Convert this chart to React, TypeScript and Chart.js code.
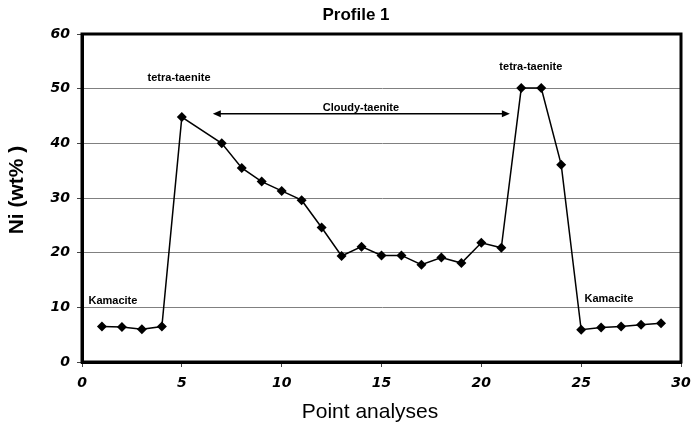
import React, { useEffect, useRef } from 'react';
import { Chart, registerables } from 'chart.js';

Chart.register(...registerables);

// ---- data ----
const pointNumbers = [1, 2, 3, 4, 5, 7, 8, 9, 10, 11, 12, 13, 14, 15, 16, 17, 18, 19, 20, 21, 22, 23, 24, 25, 26, 27, 28, 29];
const niValues = [6.5, 6.4, 6.0, 6.5, 44.8, 40.0, 35.5, 33.0, 31.3, 29.6, 24.6, 19.4, 21.1, 19.5, 19.5, 17.8, 19.1, 18.1, 21.8, 20.9, 50.1, 50.1, 36.1, 5.9, 6.3, 6.5, 6.8, 7.1];
const xTickValues = [0, 5, 10, 15, 20, 25, 30];
const yTickValues = [0, 10, 20, 30, 40, 50, 60];

const chartTitle = 'Profile 1';
const xAxisTitle = 'Point analyses';
const yAxisTitle = 'Ni (wt% )';

// annotation labels (placed in data coordinates)
const noteLabels = ['tetra-taenite', 'tetra-taenite', 'Cloudy-taenite', 'Kamacite', 'Kamacite'];
const noteX = [4.86, 22.48, 13.97, 1.55, 26.39];
const noteY = [52.0, 53.9, 46.4, 11.2, 11.6];
const arrowXStart = 6.55;
const arrowXEnd = 21.43;
const arrowYLevel = 45.4;

const tickFont = { family: "'DejaVu Sans', sans-serif", size: 14, style: 'italic' as const, weight: 'bold' as const };

function arrowHead(ctx: CanvasRenderingContext2D, x: number, y: number, dir: number) {
  const len = 8;
  const half = 3.5;
  ctx.beginPath();
  ctx.moveTo(x, y);
  ctx.lineTo(x - dir * len, y - half);
  ctx.lineTo(x - dir * len, y + half);
  ctx.closePath();
  ctx.fill();
}

const overlayPlugin = {
  id: 'overlayPlugin',
  afterDraw(chart: any) {
    const ctx: CanvasRenderingContext2D = chart.ctx;
    const xs = chart.scales.x;
    const ys = chart.scales.y;
    const area = chart.chartArea;
    ctx.save();
    // frame
    ctx.strokeStyle = '#000';
    ctx.lineWidth = 3;
    ctx.strokeRect(area.left, area.top, area.right - area.left, area.bottom - area.top);

    // annotations
    ctx.fillStyle = '#000';
    ctx.font = "bold 11px 'Liberation Sans', Arial, sans-serif";
    ctx.textAlign = 'center';
    ctx.textBaseline = 'middle';
    noteLabels.forEach((t, i) => {
      ctx.fillText(t, xs.getPixelForValue(noteX[i]), ys.getPixelForValue(noteY[i]));
    });

    // arrow
    const ax1 = xs.getPixelForValue(arrowXStart);
    const ax2 = xs.getPixelForValue(arrowXEnd);
    const ay = ys.getPixelForValue(arrowYLevel);
    ctx.lineWidth = 1.5;
    ctx.beginPath();
    ctx.moveTo(ax1 + 4, ay);
    ctx.lineTo(ax2 - 4, ay);
    ctx.stroke();
    arrowHead(ctx, ax1, ay, -1);
    arrowHead(ctx, ax2, ay, 1);

    // chart title
    ctx.font = "bold 17px 'Liberation Sans', Arial, sans-serif";
    ctx.textAlign = 'center';
    ctx.textBaseline = 'middle';
    ctx.fillText(chartTitle, 356, 15);

    // x axis title
    ctx.font = "21px 'Liberation Sans', Arial, sans-serif";
    ctx.fillText(xAxisTitle, 370, 412);

    // y axis title
    ctx.translate(17, 190);
    ctx.rotate(-Math.PI / 2);
    ctx.font = "bold 21px 'Liberation Sans', Arial, sans-serif";
    ctx.fillText(yAxisTitle, 0, 0);
    ctx.restore();
  },
};

export default function App() {
  const canvasRef = useRef<HTMLCanvasElement | null>(null);

  useEffect(() => {
    document.body.style.margin = '0';
    const canvas = canvasRef.current;
    if (!canvas) return;
    const chart = new Chart(canvas, {
      type: 'scatter',
      data: {
        datasets: [
          {
            label: 'Ni',
            data: pointNumbers.map((x, i) => ({ x, y: niValues[i] })),
            showLine: true,
            borderColor: '#000',
            backgroundColor: '#000',
            borderWidth: 1.5,
            pointStyle: 'rectRot',
            pointRadius: 5,
            pointBackgroundColor: '#000',
            pointBorderColor: '#000',
            pointBorderWidth: 0,
          },
        ],
      },
      options: {
        responsive: false,
        animation: false,
        devicePixelRatio: 1,
        layout: { padding: { top: 34, right: 11, left: 0, bottom: 0 } },
        plugins: {
          legend: { display: false },
          title: { display: false },
          tooltip: { enabled: false },
        },
        scales: {
          x: {
            type: 'linear',
            min: 0,
            max: 30,
            afterBuildTicks: (scale: any) => {
              scale.ticks = xTickValues.map((v) => ({ value: v }));
            },
            afterFit: (scale: any) => {
              scale.height = 63;
              scale.paddingLeft = 0;
              scale.paddingRight = 0;
            },
            grid: { drawOnChartArea: false, drawTicks: true, tickLength: 5, tickColor: '#444' },
            border: { display: true, color: '#000', width: 3 },
            ticks: { color: '#000', font: tickFont, padding: 8, maxRotation: 0 },
          },
          y: {
            type: 'linear',
            min: 0,
            max: 60,
            afterBuildTicks: (scale: any) => {
              scale.ticks = yTickValues.map((v) => ({ value: v }));
            },
            afterFit: (scale: any) => {
              scale.width = 82;
              scale.paddingTop = 0;
              scale.paddingBottom = 0;
            },
            grid: { drawOnChartArea: true, color: '#808080', lineWidth: 1, drawTicks: true, tickLength: 5, tickColor: '#444' },
            border: { display: true, color: '#000', width: 3 },
            ticks: { color: '#000', font: tickFont, padding: 7 },
          },
        },
      },
      plugins: [overlayPlugin],
    });
    return () => chart.destroy();
  }, []);

  return <canvas ref={canvasRef} width={692} height={425} style={{ display: 'block' }} />;
}
